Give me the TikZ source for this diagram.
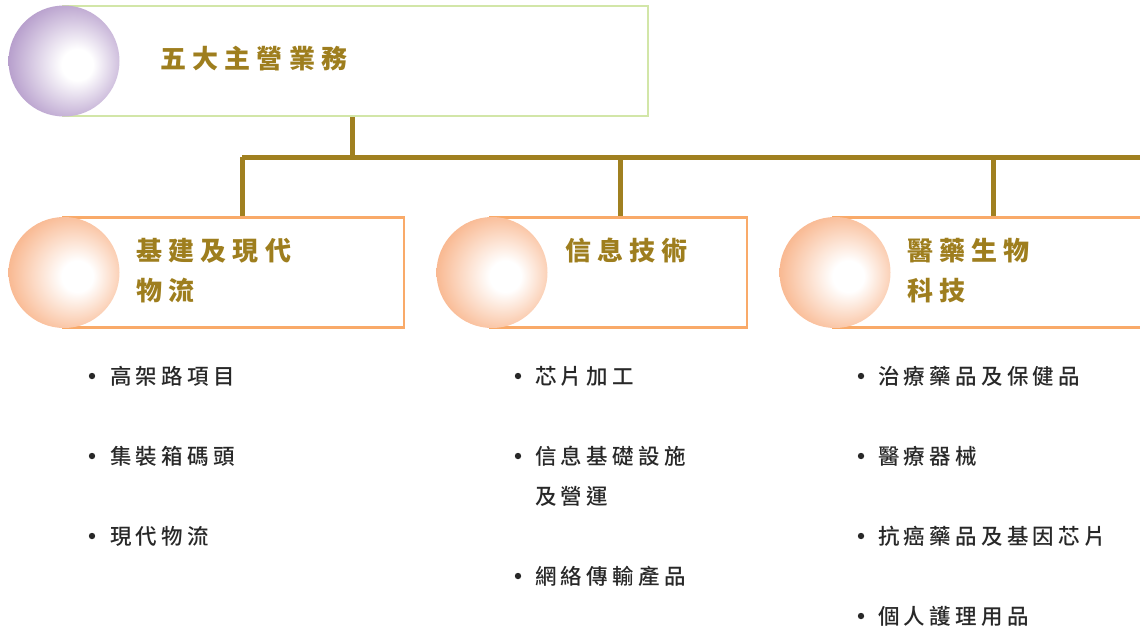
\documentclass[tikz,border=0pt]{standalone}
\usepackage{fontspec}
\IfFontExistsTF{Noto Sans CJK TC Medium}
  {\newfontfamily\cjk[LetterSpace=20]{Noto Sans CJK TC Medium}}
  {\newfontfamily\cjk[LetterSpace=20]{Noto Sans CJK TC}}
\IfFontExistsTF{Noto Sans CJK TC Black}
  {\newfontfamily\cjkt[LetterSpace=24]{Noto Sans CJK TC Black}}
  {\newfontfamily\cjkt[LetterSpace=24,UprightFont=*,BoldFont=* Bold]{Noto Sans CJK TC}}
\definecolor{olive}{RGB}{158,126,30}
\definecolor{linecol}{RGB}{160,128,32}
\definecolor{greenb}{RGB}{210,230,168}
\definecolor{orangeb}{RGB}{249,170,105}
\definecolor{ballP}{RGB}{160,128,188}
\definecolor{ballO}{RGB}{247,162,110}
\definecolor{txt}{RGB}{40,40,40}
\pgfdeclareradialshading{purpleball}{\pgfpoint{7bp}{-2bp}}{color(0bp)=(white); color(7bp)=(white); color(35bp)=(ballP); color(50bp)=(ballP)}
\pgfdeclareradialshading{orangeball}{\pgfpoint{7bp}{-2bp}}{color(0bp)=(white); color(7bp)=(white); color(35bp)=(ballO); color(50bp)=(ballO)}
\tikzset{
  frame/.style={draw=#1, line width=2.5pt, inner sep=0pt, minimum height=110pt},
  ball/.style={circle, inner sep=0pt, minimum size=111pt, shading=#1},
  ttl/.style={font=\cjkt\fontsize{26}{40}\selectfont, text=olive, inner sep=0pt, anchor=base west, align=left},
  itm/.style={font=\cjk\fontsize{21.5}{40}\selectfont, text=txt, inner sep=0pt, anchor=base west, align=left},
  conn/.style={draw=linecol, line width=5pt},
  bul/.style={fill=txt}
}
\begin{document}
\begin{tikzpicture}[x=1pt,y=-1pt]
\useasboundingbox (0,0) rectangle (1140,630);
% connectors
\coordinate (j0) at (352,157);
\coordinate (busL) at (242,157);
\coordinate (busM) at (620,157);
\coordinate (busN) at (993,157);
\coordinate (busR) at (1140,157);
% boxes
\node[frame=greenb, minimum width=585pt] (topbox) at (355.5,61) {};
\node[frame=orangeb, minimum width=341pt] (b1) at (233.5,272.5) {};
\node[frame=orangeb, minimum width=257pt] (b2) at (618.5,272.5) {};
\node[frame=orangeb, minimum width=330pt] (b3) at (998,272.5) {};
\draw[conn] (topbox.south -| j0) -- (j0);
\draw[conn] (busL) -- (busR);
\draw[conn] (busL) -- (busL |- b1.north);
\draw[conn] (busM) -- (busM |- b2.north);
\draw[conn] (busN) -- (busN |- b3.north);
% balls
\node[ball=purpleball] (topball) at (64,61) {};
\node[ball=orangeball] (ball1) at (64,272.5) {};
\node[ball=orangeball] (ball2) at (492,272.5) {};
\node[ball=orangeball] (ball3) at (835,272.5) {};
% titles (base anchor = baseline of last line)
\node[ttl] (t0) at (160,68) {五大主營業務};
\node[ttl] (t1) at (136,300) {基建及現代\\物流};
\node[ttl] (t2) at (565,260) {信息技術};
\node[ttl] (t3) at (907,300) {醫藥生物\\科技};
% items
\node[itm] (a1) at (110,384) {高架路項目};
\node[itm] (a2) at (110,464) {集裝箱碼頭};
\node[itm] (a3) at (110,544) {現代物流};
\node[itm] (m1) at (535,384) {芯片加工};
\node[itm] (m2) at (535,504) {信息基礎設施\\及營運};
\node[itm] (m3) at (535,584) {網絡傳輸產品};
\node[itm] (r1) at (878,384) {治療藥品及保健品};
\node[itm] (r2) at (878,464) {醫療器械};
\node[itm] (r3) at (878,544) {抗癌藥品及基因芯片};
\node[itm] (r4) at (878,624) {個人護理用品};
\foreach \y in {376,456,536}{\fill[bul] (92,\y) circle (3.2pt);}
\foreach \y in {376,456,576}{\fill[bul] (518,\y) circle (3.2pt);}
\foreach \y in {376,456,536,616}{\fill[bul] (861,\y) circle (3.2pt);}
\end{tikzpicture}
\end{document}
